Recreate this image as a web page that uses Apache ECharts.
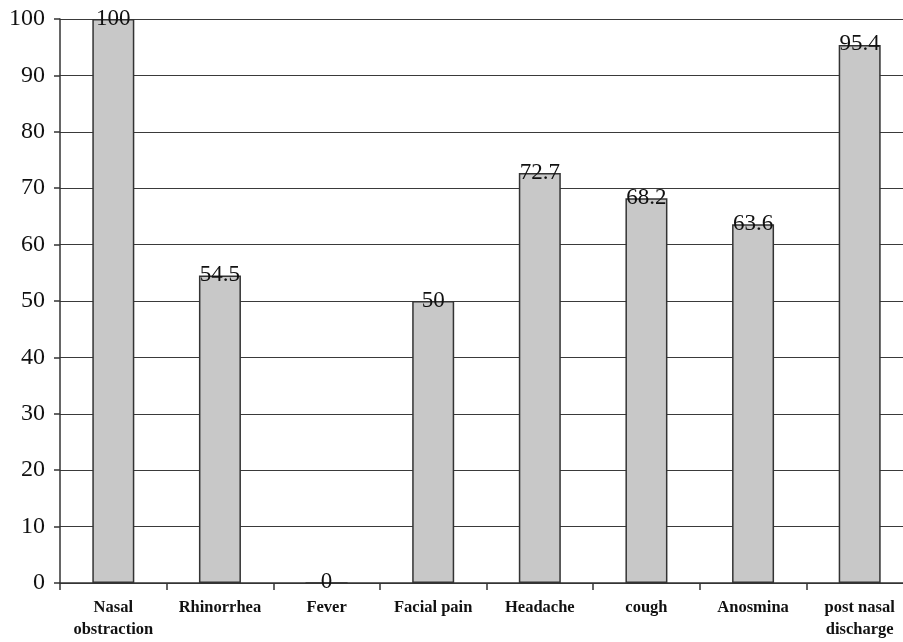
<!DOCTYPE html>
<html><head><meta charset="utf-8">
<script src="https://cdn.jsdelivr.net/npm/echarts@6/dist/echarts.min.js"></script>
<style>html,body{margin:0;padding:0;background:#fff;overflow:hidden}#c{width:913px;height:642px}</style>
</head><body><div id="c"></div>
<script>
const categories = ["Nasal\nobstraction","Rhinorrhea","Fever","Facial pain","Headache","cough","Anosmina","post nasal\ndischarge"];
const values = [100, 54.5, 0, 50, 72.7, 68.2, 63.6, 95.4];
const yTicks = [0,10,20,30,40,50,60,70,80,90,100];
const chart = echarts.init(document.getElementById('c'), null, {renderer:'canvas'});
const serif = '"Liberation Serif","DejaVu Serif",serif';
chart.setOption({
  animation:false,
  backgroundColor:'#fff',
  grid:{left:60, top:19, right:0, bottom:59, containLabel:false},
  xAxis:{
    type:'category', data:categories, boundaryGap:true,
    axisLine:{lineStyle:{color:'#333', width:1.5}},
    axisTick:{show:true, length:7, alignWithLabel:false, lineStyle:{color:'#333', width:1.5}},
    axisLabel:{color:'#111', fontFamily:serif, fontWeight:'bold', fontSize:16.5, margin:14, lineHeight:22, interval:0}
  },
  yAxis:{
    type:'value', min:0, max:100, interval:10,
    axisLine:{show:true, lineStyle:{color:'#333', width:1.5}},
    axisTick:{show:true, length:6, lineStyle:{color:'#333', width:1.5}},
    axisLabel:{color:'#111', fontFamily:serif, fontSize:24, margin:15,
      formatter:v=>yTicks.includes(v)?String(v):''},
    splitLine:{show:true, lineStyle:{color:'#3a3a3a', width:1.2}}
  },
  series:[{
    type:'bar', data:values, barWidth:42,
    itemStyle:{color:'#c8c8c8', borderColor:'#333', borderWidth:1.5},
    label:{show:true, position:'top', distance:-11, color:'#111', fontFamily:serif, fontSize:23,
      formatter:p=>String(p.value)}
  }]
});
</script></body></html>
